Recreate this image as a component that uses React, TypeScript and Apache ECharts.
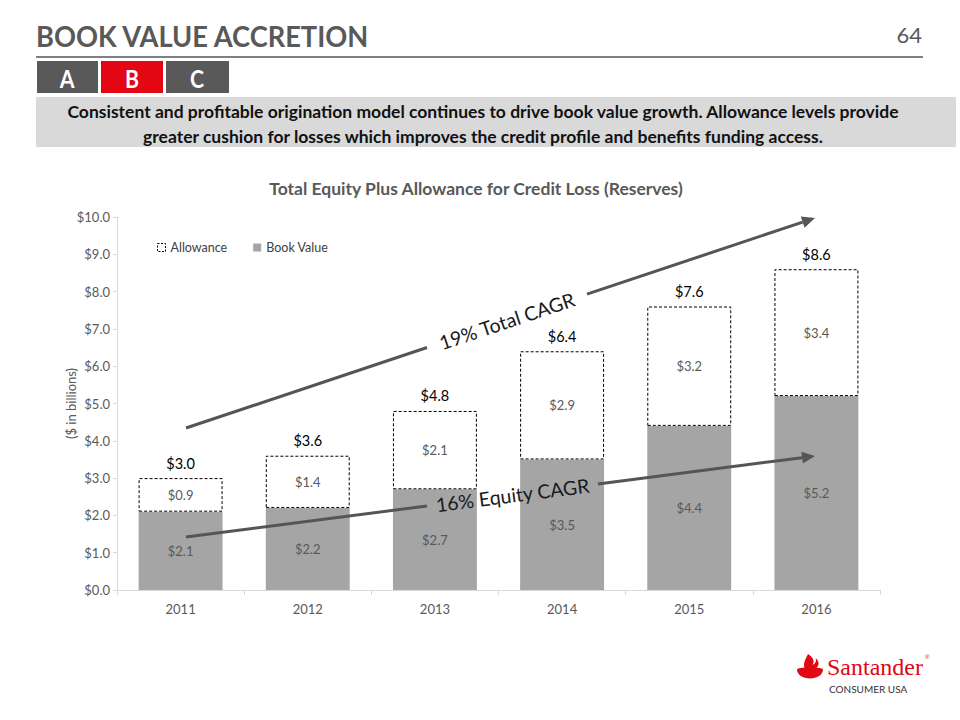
import React, { useEffect, useRef } from "react";
import * as echarts from "echarts";

const years = ["2011", "2012", "2013", "2014", "2015", "2016"];
const bookValue = [2.1, 2.2, 2.7, 3.5, 4.4, 5.2];
const allowance = [0.9, 1.4, 2.1, 2.9, 3.2, 3.4];
const totals = [3.0, 3.6, 4.8, 6.4, 7.6, 8.6];
const yMin = 0;
const yMax = 10;
const yStep = 1;

const FLAME =
  "M0 15 C5 12.5 21 12.5 26 15 C26 21 20 24.5 13 24.5 C6 24.5 0 21 0 15 Z " +
  "M11 0 C16 3 18 7 15.5 11 C19 9.5 19.5 6.5 18.5 4 C22.5 7.5 22.5 11.5 19 14 C15 13.2 11 13.2 8 14 C5.5 10.5 8 6 11 0 Z";

echarts.graphic.registerShape("flame", echarts.graphic.extendPath(FLAME, {}));

function arrow(
  x1: number, y1: number, x2: number, y2: number,
  gapStart: number, gapEnd: number, label: string
) {
  const dx = x2 - x1, dy = y2 - y1;
  const len = Math.sqrt(dx * dx + dy * dy);
  const ux = dx / len, uy = dy / len;
  const yAt = (x: number) => y1 + (dy / dx) * (x - x1);
  const headLen = 13, headW = 6;
  const bx = x2 - ux * headLen, by = y2 - uy * headLen;
  const color = "#555555";
  const ang = Math.atan2(-dy, dx);
  const cx = (gapStart + gapEnd) / 2;
  return [
    { type: "line", z: 100, shape: { x1, y1, x2: gapStart, y2: yAt(gapStart) }, style: { stroke: color, lineWidth: 3 } },
    { type: "line", z: 100, shape: { x1: gapEnd, y1: yAt(gapEnd), x2: bx, y2: by }, style: { stroke: color, lineWidth: 3 } },
    {
      type: "polygon", z: 100,
      shape: { points: [[x2, y2], [bx - uy * headW, by + ux * headW], [bx + uy * headW, by - ux * headW]] },
      style: { fill: color },
    },
    {
      type: "text", z: 100, x: cx, y: yAt(cx), rotation: ang,
      style: { text: label, fill: "#1a1a1a", font: "19.5px Lato, 'Open Sans', sans-serif", align: "center", verticalAlign: "middle" },
    },
  ];
}

export default function App() {
  const ref = useRef<HTMLDivElement>(null);
  useEffect(() => {
    if (!ref.current) return;
    const chart = echarts.init(ref.current, null, { renderer: "svg" });
    const money = (v: number) => "$" + v.toFixed(1);
    const gray = "#595959";
    const font = "Lato, 'Open Sans', sans-serif";
    chart.setOption({
      animation: false,
      backgroundColor: "#ffffff",
      textStyle: { fontFamily: font },
      grid: { left: 117, right: 80, top: 217, bottom: 130, containLabel: false },
      legend: {
        data: [
          { name: "Allowance", icon: "rect", itemStyle: { color: "#ffffff", borderColor: "#000000", borderWidth: 1, borderType: [2, 1.5] } },
          { name: "Book Value", icon: "rect" },
        ],
        left: 152, top: 236,
        itemWidth: 8, itemHeight: 8, itemGap: 26,
        textStyle: { fontSize: 12.5, color: "#404040", fontFamily: font },
      },
      xAxis: {
        type: "category",
        data: years,
        axisLine: { lineStyle: { color: "#d9d9d9" } },
        axisTick: { show: true, length: 5, lineStyle: { color: "#d9d9d9" } },
        axisLabel: { color: gray, fontSize: 13, margin: 12 },
      },
      yAxis: {
        type: "value",
        min: yMin, max: yMax, interval: yStep,
        name: "($ in billions)",
        nameLocation: "middle",
        nameGap: 40,
        nameRotate: 90,
        nameMoveOverlap: false,
        nameTextStyle: { color: gray, fontSize: 13 },
        axisLine: { show: true, lineStyle: { color: "#d9d9d9" } },
        axisTick: { show: true, length: 4, lineStyle: { color: "#d9d9d9" } },
        splitLine: { show: false },
        axisLabel: { color: gray, fontSize: 13, margin: 7, formatter: (v: number) => money(v) },
      },
      series: [
        {
          name: "Book Value", type: "bar", stack: "t", data: bookValue, barWidth: "66%",
          itemStyle: { color: "#a5a5a5" },
          label: { show: true, position: "inside", color: gray, fontSize: 13, formatter: (p: any) => money(p.value) },
        },
        {
          name: "Allowance", type: "bar", stack: "t", data: allowance, barWidth: "66%",
          itemStyle: { color: "#ffffff", borderColor: "#000000", borderWidth: 1, borderType: [3, 2] },
          label: { show: true, position: "inside", color: gray, fontSize: 13, formatter: (p: any) => money(p.value) },
        },
        {
          name: "Total", type: "line", data: totals, symbol: "circle", symbolSize: 1,
          itemStyle: { color: "rgba(0,0,0,0)" }, lineStyle: { width: 0, opacity: 0 },
          label: { show: true, position: "top", distance: 7, color: "#000000", fontSize: 14.5, formatter: (p: any) => money(p.value) },
          z: 5,
        },
      ],
      graphic: [
        { type: "text", x: 36, y: 36, scaleX: 0.94, style: { text: "BOOK VALUE ACCRETION", fill: gray, font: "bold 29px Lato, sans-serif", verticalAlign: "middle" } },
        { type: "text", x: 922, y: 34, style: { text: "64", fill: gray, font: "22px Lato, sans-serif", align: "right", verticalAlign: "middle" } },
        { type: "line", shape: { x1: 36, y1: 57, x2: 923, y2: 57 }, style: { stroke: "#7f7f7f", lineWidth: 2 } },
        { type: "rect", shape: { x: 37, y: 61, width: 61, height: 32 }, style: { fill: "#595959" } },
        { type: "rect", shape: { x: 101, y: 61, width: 62, height: 32 }, style: { fill: "#e30613" } },
        { type: "rect", shape: { x: 166, y: 61, width: 63, height: 32 }, style: { fill: "#595959" } },
        { type: "text", x: 67, y: 78, scaleX: 0.85, style: { text: "A", fill: "#ffffff", font: "bold 25px Lato, sans-serif", align: "center", verticalAlign: "middle" } },
        { type: "text", x: 132, y: 78, scaleX: 0.85, style: { text: "B", fill: "#ffffff", font: "bold 25px Lato, sans-serif", align: "center", verticalAlign: "middle" } },
        { type: "text", x: 197, y: 78, scaleX: 0.85, style: { text: "C", fill: "#ffffff", font: "bold 25px Lato, sans-serif", align: "center", verticalAlign: "middle" } },
        { type: "rect", shape: { x: 36, y: 97, width: 920, height: 50 }, style: { fill: "#d9d9d9" } },
        { type: "text", x: 483, y: 111, style: { text: "Consistent and profitable origination model continues to drive book value growth. Allowance levels provide", fill: "#111111", font: "bold 17.5px Lato, sans-serif", align: "center", verticalAlign: "middle" } },
        { type: "text", x: 483, y: 136, style: { text: "greater cushion for losses which improves the credit profile and benefits funding access.", fill: "#111111", font: "bold 17.5px Lato, sans-serif", align: "center", verticalAlign: "middle" } },
        { type: "text", x: 476, y: 188, style: { text: "Total Equity Plus Allowance for Credit Loss (Reserves)", fill: gray, font: "bold 17.5px Lato, sans-serif", align: "center", verticalAlign: "middle" } },
        ...arrow(186, 428, 815, 218, 427, 587, "19% Total CAGR"),
        ...arrow(186, 537, 815, 456, 427, 598, "16% Equity CAGR"),
        { type: "flame", x: 797, y: 654, scaleX: 1, scaleY: 1, style: { fill: "#e30613" } },
        { type: "text", x: 827, y: 667, style: { text: "Santander", fill: "#e30613", font: "24px 'Liberation Serif', serif", verticalAlign: "middle" } },
        { type: "text", x: 925, y: 657, style: { text: "®", fill: "#e30613", font: "6px sans-serif", verticalAlign: "middle" } },
        { type: "text", x: 829, y: 689, style: { text: "CONSUMER USA", fill: "#333333", font: "10px Lato, sans-serif", verticalAlign: "middle" } },
      ],
    });
    return () => chart.dispose();
  }, []);
  return <div ref={ref} style={{ position: "fixed", left: 0, top: 0, width: 960, height: 720 }} />;
}
